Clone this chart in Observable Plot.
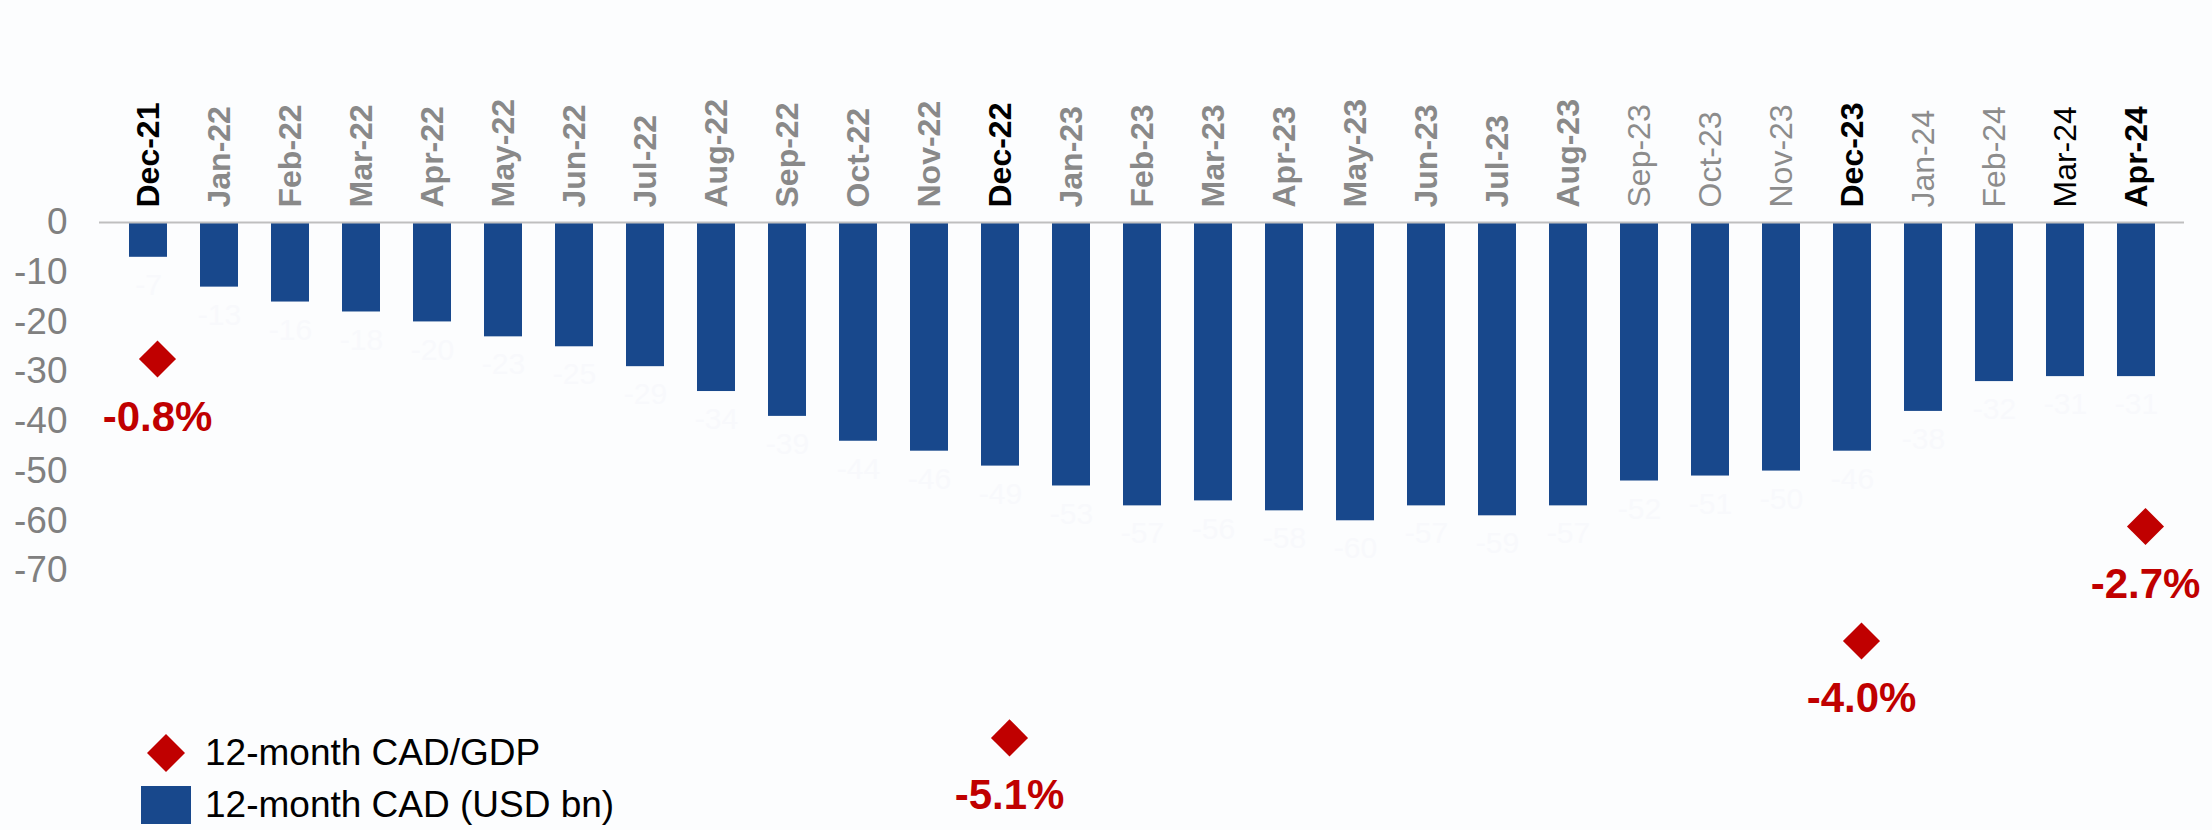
<!DOCTYPE html>
<html>
<head>
<meta charset="utf-8">
<script src="https://cdn.jsdelivr.net/npm/d3@7"></script>
<script src="https://cdn.jsdelivr.net/npm/@observablehq/plot@0.6"></script>
<style>
  html, body { margin: 0; padding: 0; background: #fcfdfe; }
  #wrap { position: relative; width: 2212px; height: 830px; font-family: "Liberation Sans", Arial, sans-serif; }
  #legend { position: absolute; left: 0; top: 0; width: 0; height: 0; }
  .lg-row { position: absolute; display: flex; align-items: center; font-size: 37px; color: #000; white-space: nowrap; }
</style>
</head>
<body>
<div id="wrap">
  <div id="chart"></div>
  <div id="legend"></div>
</div>
<script>
// ---- data ----
const months = ["Dec-21","Jan-22","Feb-22","Mar-22","Apr-22","May-22","Jun-22","Jul-22","Aug-22","Sep-22","Oct-22","Nov-22",
  "Dec-22","Jan-23","Feb-23","Mar-23","Apr-23","May-23","Jun-23","Jul-23","Aug-23","Sep-23","Oct-23","Nov-23",
  "Dec-23","Jan-24","Feb-24","Mar-24","Apr-24"];
const cadUsdBn = [-7,-13,-16,-18,-20,-23,-25,-29,-34,-39,-44,-46,-49,-53,-57,-56,-58,-60,-57,-59,-57,-52,-51,-50,-46,-38,-32,-31,-31];
const gdpMonths = ["Dec-21","Dec-22","Dec-23","Apr-24"];
const cadGdpPct = [-0.8,-5.1,-4.0,-2.7];
const yTicks = [0,-10,-20,-30,-40,-50,-60,-70];
const seriesNames = ["12-month CAD/GDP", "12-month CAD (USD bn)"];

// ---- label style groups ----
const boldBlackLabels = ["Dec-21","Dec-22","Dec-23","Apr-24"];
const regularGrayLabels = ["Sep-23","Oct-23","Nov-23","Jan-24","Feb-24"];
const regularBlackLabels = ["Mar-24"];

// secondary (CAD/GDP %) axis aligned with primary [-70, 0]
const gdpAxisDomain = [-3.2, 0.75];
const primaryDomain = [-70, 0];
const toPrimary = d3.scaleLinear().domain(gdpAxisDomain).range(primaryDomain);

const bars = months.map((m, i) => ({month: m, value: cadUsdBn[i]}));
const gdp = gdpMonths.map((m, i) => ({month: m, pct: cadGdpPct[i], yp: toPrimary(cadGdpPct[i])}));

const BLUE = "#18488c";
const RED = "#c00000";
const FONT = "Liberation Sans, Arial, sans-serif";

const boldGray = months.filter(m => !boldBlackLabels.includes(m) && !regularGrayLabels.includes(m) && !regularBlackLabels.includes(m));

const labelMark = (list, fill, weight) => Plot.text(list, {
  x: d => d, y: () => 0, text: d => d, rotate: -90, textAnchor: "start",
  dy: -15, fontSize: 32, fontWeight: weight, fill, fontFamily: FONT
});

const chart = Plot.plot({
  width: 2212,
  height: 830,
  marginLeft: 99,
  marginRight: 28,
  marginTop: 222,
  marginBottom: 260,
  style: {background: "#fcfdfe", fontFamily: FONT, overflow: "visible"},
  x: {type: "band", domain: months, paddingInner: 0.47, paddingOuter: 0.235, axis: null},
  y: {domain: primaryDomain, axis: null},
  marks: [
    Plot.barY(bars, {x: "month", y: "value", fill: BLUE}),
    Plot.text(bars, {x: "month", y: "value", text: d => String(d.value), dy: 28, fontSize: 30, fill: "#f8f9fc", fontFamily: FONT}),
    Plot.ruleY([0], {stroke: "#bfbfbf", strokeWidth: 2}),
    Plot.axisY({ticks: yTicks, tickSize: 0, tickPadding: 32, fontSize: 37, fill: "#808080", tickFormat: d => String(d), fontFamily: FONT}),
    labelMark(boldGray, "#898989", "bold"),
    labelMark(boldBlackLabels, "#000000", "bold"),
    labelMark(regularGrayLabels, "#8c8c8c", "normal"),
    labelMark(regularBlackLabels, "#000000", "normal"),
    Plot.dot(gdp, {x: "month", y: "yp", symbol: "diamond2", r: 16.7, fill: RED, stroke: null, dx: 9}),
    Plot.text(gdp, {x: "month", y: "yp", text: d => d.pct.toFixed(1) + "%", dx: 9, dy: 58, fontSize: 42, fontWeight: "bold", fill: RED, fontFamily: FONT})
  ]
});
document.getElementById("chart").appendChild(chart);

// ---- legend (HTML overlay) ----
const legend = document.getElementById("legend");
const rows = [
  {name: seriesNames[0], top: 732, left: 141, svg: `<svg width="50" height="40" viewBox="0 0 50 40"><path d="M25,1 L44,20 L25,39 L6,20 Z" fill="${RED}"/></svg>`},
  {name: seriesNames[1], top: 784, left: 141, svg: `<svg width="50" height="40" viewBox="0 0 50 40"><rect x="0" y="1" width="50" height="38" fill="${BLUE}"/></svg>`}
];
rows.forEach(r => {
  const div = document.createElement("div");
  div.className = "lg-row";
  div.style.left = r.left + "px";
  div.style.top = r.top + "px";
  div.innerHTML = r.svg + `<span style="margin-left:14px">${r.name}</span>`;
  legend.appendChild(div);
});
</script>
</body>
</html>
